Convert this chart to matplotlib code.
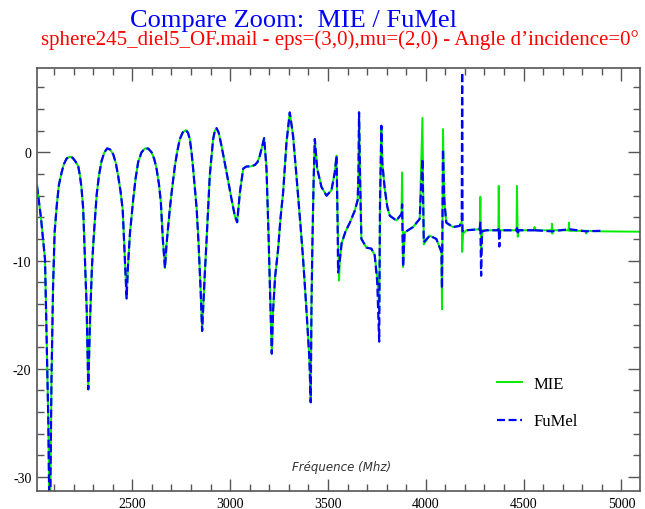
import matplotlib
matplotlib.use("Agg")
import matplotlib.pyplot as plt
from matplotlib.ticker import MultipleLocator

plt.rcParams['axes.unicode_minus'] = False

# part where MIE and FuMel overlap (frequency in MHz, level in dB)
common_f = [2013, 2033, 2054, 2063, 2071, 2076, 2079, 2082, 2087, 2095, 2103, 2114, 2125, 2139, 2150,
            2165, 2182, 2195, 2210, 2224, 2232, 2240, 2249, 2258, 2267, 2275,
            2284, 2294, 2304, 2318, 2330, 2343, 2357, 2372, 2388, 2403, 2416, 2428, 2440, 2451, 2462, 2471,
            2478, 2488, 2505, 2517, 2530, 2547, 2565, 2582, 2599, 2612, 2624, 2636, 2646, 2656, 2667,
            2675, 2692, 2705, 2718, 2730, 2743, 2758, 2774, 2785, 2794, 2803, 2811, 2820, 2829, 2839, 2849, 2857,
            2871, 2880, 2896, 2913, 2922, 2931, 2942, 2956, 2982, 3007, 3024, 3036, 3050, 3067,
            3084, 3105, 3126, 3140, 3152, 3163, 3174, 3186, 3197, 3205, 3213,
            3220, 3230, 3245, 3258, 3271, 3288, 3305, 3322, 3339, 3360, 3373, 3390, 3405, 3412,
            3416, 3421, 3427, 3433, 3445, 3467, 3493, 3518, 3535, 3544, 3549]
common_db = [-3.1, -6.0, -9.9, -18, -25, -33, -45, -30, -21, -12.5, -7.4, -4.9, -3.0, -1.85, -1.1,
             -0.55, -0.4, -0.5, -0.85, -1.3, -2.1, -3.2, -5.2, -9.9, -14.5, -21.9,
             -15.5, -10.5, -7.5, -3.9, -2.1, -0.8, 0.0, 0.37, 0.25, -0.2, -1.0, -2.2, -3.6, -5.3, -9.8, -13.5,
             -10.5, -7.5, -4.3, -2.4, -0.9, 0.0, 0.37, 0.35, 0.0, -0.6, -1.5, -2.9, -4.6, -8.0, -10.7,
             -8.5, -5.2, -3.1, -1.23, 0.1, 1.23, 1.85, 2.06, 1.8, 1.23, 0.0, -1.5, -3.3, -5.2, -8.5, -12.6, -16.5,
             -11.1, -8.0, -2.15, 1.2, 2.0, 2.24, 1.8, 0.6, -1.85, -4.3, -5.85, -6.46, -3.7, -1.5,
             -1.3, -1.3, -1.17, -0.9, -0.3, 0.5, 1.32, -1.5, -8.0, -13.5, -18.6,
             -14.5, -11.5, -9.0, -6.0, -3.7, 0.9, 3.69, 1.5, -2.15, -6.8, -9.85, -14.5, -19, -23.1,
             -14, -8, -2.5, 1.23, -1.5, -3.2, -4.0, -3.5, -1.85, -0.3, -6]

mie_tail_f = [3557, 3561, 3570, 3590, 3612, 3637, 3652, 3656, 3659, 3665, 3671, 3697, 3722,
              3739, 3752, 3762, 3766, 3773, 3778, 3790, 3803, 3816, 3850, 3876, 3879, 3884,
              3892, 3935, 3969, 3983, 3990, 4020, 4054, 4080, 4083, 4088, 4095, 4105, 4139,
              4173, 4184, 4186, 4191, 4208, 4276, 4279, 4283, 4288, 4310, 4371, 4373, 4376,
              4380, 4464, 4466, 4470, 4474, 4554, 4556, 4558, 4643, 4645, 4647, 4649, 4730,
              4732, 4734, 4818, 4820, 4822, 4900, 5093]
mie_tail_db = [-11.85, -9.9, -8.4, -7.3, -6.5, -5.4, -4.4, -2, 3.7, -3.0, -8.0, -8.8, -8.9,
               -9.5, -11.5, -14.6, -5, 2.46, -1.0, -3.3, -5.0, -5.85, -6.3, -5.7, -1.85, -10.6,
               -7.4, -6.9, -6.15, 3.2, -8.5, -7.7, -8.0, -9.2, -14.5, 2.15, -4.5, -6.5, -6.9,
               -6.8, -6.4, -9.2, -7.5, -7.2, -7.1, -4.1, -9.2, -7.2, -7.2, -7.2, -3.1, -8.0,
               -7.2, -7.2, -3.1, -7.8, -7.2, -7.2, -6.9, -7.2, -7.2, -6.6, -7.5, -7.2, -7.2,
               -6.5, -7.25, -7.25, -7.5, -7.25, -7.3, -7.33]

fumel_tail_f = [3552, 3561, 3570, 3590, 3612, 3637, 3652, 3656, 3659, 3665, 3671, 3697, 3722,
                3739, 3752, 3762, 3766, 3773, 3778, 3790, 3803, 3816, 3850, 3876, 3879, 3884,
                3892, 3935, 3969, 3983, 3990, 4020, 4054, 4080, 4083, 4088, 4095, 4105, 4139,
                4173, 4184, 4186, 4188, 4208, 4276, 4279, 4283, 4288, 4310, 4371, 4373, 4376,
                4380, 4464, 4466, 4470, 4474, 4554, 4556, 4558, 4645, 4732, 4820, 4897]
fumel_tail_db = [-11.1, -9.9, -8.4, -7.3, -6.5, -5.4, -4.4, -2, 3.7, -3.0, -8.0, -8.8, -8.9,
                 -9.5, -12, -17.5, -5, 2.46, -1.0, -3.3, -5.0, -5.85, -6.3, -5.7, -4.8, -10.6,
                 -7.4, -6.9, -6.15, -0.6, -8.3, -7.7, -8.0, -9.2, -12.6, 0.3, -4.5, -6.5, -6.9,
                 -6.8, -6.3, 7.4, -7.3, -7.2, -7.1, -6.5, -11.4, -7.3, -7.2, -7.2, -7.0, -8.7,
                 -7.2, -7.2, -7.0, -7.6, -7.2, -7.2, -7.0, -7.2, -7.3, -7.1, -7.3, -7.25]

mie_f = common_f + mie_tail_f
mie_db = common_db + mie_tail_db
fumel_f = common_f + fumel_tail_f
fumel_db = common_db + fumel_tail_db

serif = 'Liberation Serif'

fig = plt.figure(figsize=(6.45, 5.1), dpi=100)
ax = fig.add_axes([37/645, 1-492/510, 603/645, 423/510])

ax.plot(mie_f, mie_db, color='#00ee00', lw=1.4, label='MIE')
ax.plot(fumel_f, fumel_db, color='#0000ff', lw=1.6, linestyle=(0, (3.6, 1.6)), label='FuMel')

ax.set_xlim(2013, 5095)
ax.set_ylim(-31.3, 7.8)
ax.xaxis.set_major_locator(MultipleLocator(500))
ax.xaxis.set_minor_locator(MultipleLocator(100))
ax.yaxis.set_major_locator(MultipleLocator(10))
ax.yaxis.set_minor_locator(MultipleLocator(2))
ax.tick_params(which='both', direction='in', top=True, right=True, color='#555555', width=1.0)
ax.tick_params(which='major', length=9, labelsize=10, pad=4)
ax.tick_params(which='minor', length=5)
for lab in ax.get_xticklabels() + ax.get_yticklabels():
    lab.set_family(serif)
for s in ax.spines.values():
    s.set_color('#555555')
    s.set_linewidth(1.2)

ax.text(0.505, 0.057, 'Fréquence (Mhz)', transform=ax.transAxes, ha='center', va='center',
        fontsize=8.5, style='italic', color='#333333')

leg = ax.legend(loc='center left', bbox_to_anchor=(0.763, 0.209), frameon=False,
                prop={'family': serif, 'size': 12}, handlelength=1.5, handletextpad=0.7,
                labelspacing=1.3, borderpad=0, borderaxespad=0)

fig.text(294/645, 1-27/510, 'Compare Zoom:  MIE / FuMel', ha='center', va='baseline',
         family=serif, fontsize=19, color='#0000ff')
fig.text(340/645, 1-45/510, 'sphere245_diel5_OF.mail - eps=(3,0),mu=(2,0) - Angle d\u2019incidence=0\u00b0',
         ha='center', va='baseline', family=serif, fontsize=15, color='#ff0000')

fig.savefig('out.png', dpi=100)
